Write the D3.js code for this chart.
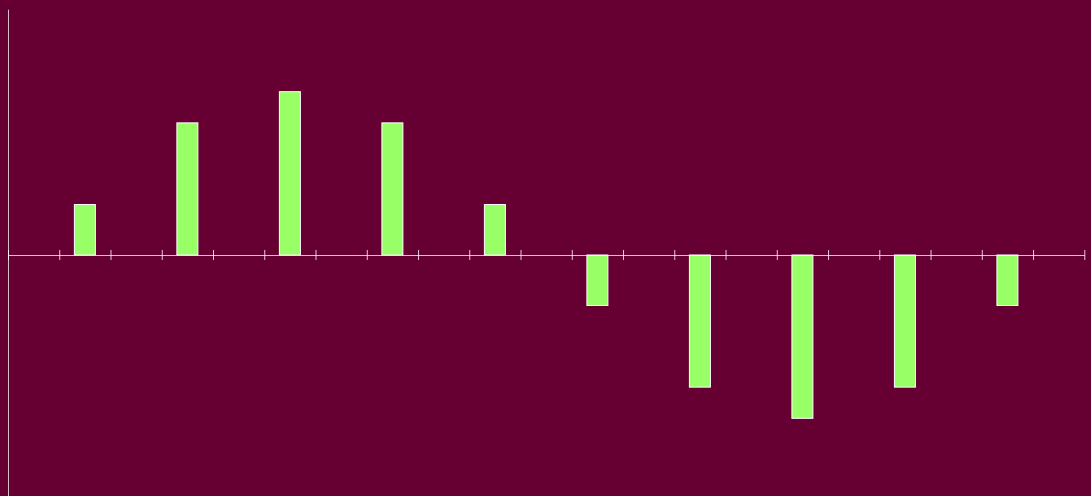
<!DOCTYPE html>
<html><head><meta charset="utf-8">
<script src="https://cdn.jsdelivr.net/npm/d3@7"></script>
<style>html,body{margin:0;padding:0;background:#660033;overflow:hidden}</style>
</head><body>
<svg id="chart" width="1091" height="496"></svg>
<script>
const xPositions = [1.5, 3.5, 5.5, 7.5, 9.5, 11.5, 13.5, 15.5, 17.5, 19.5];
const values = [0.309, 0.809, 1, 0.809, 0.309, -0.309, -0.809, -1, -0.809, -0.309];
const xDomain = [0, 21];
const yDomain = [-1.505, 1.505];
const xTicks = d3.range(0, 22);

const svg = d3.select("#chart");
svg.append("rect").attr("width",1091).attr("height",496).attr("fill","#660033");

const x = d3.scaleLinear().domain(xDomain).range([8, 1084.3]);
const y = d3.scaleLinear().domain(yDomain).range([500.8, 9.2]);
const barW = 21;

svg.append("g").selectAll("rect").data(values).join("rect")
  .attr("x",(d,i)=>x(xPositions[i]) - barW/2)
  .attr("y",d=>y(Math.max(0,d)))
  .attr("width",barW)
  .attr("height",d=>Math.abs(y(d) - y(0)))
  .attr("fill","#99ff66")
  .attr("stroke","#ffffff")
  .attr("stroke-width",1);

const xAxis = d3.axisBottom(x).tickValues(xTicks).tickSize(5).tickSizeOuter(0).tickFormat("");
const gx = svg.append("g").attr("transform",`translate(0,${y(0)})`).call(xAxis);
gx.select(".domain").attr("stroke","#ffffff").attr("stroke-opacity",0.75);
gx.selectAll(".tick line").attr("y1",-5).attr("y2",5).attr("stroke","#ffffff").attr("stroke-opacity",0.8);

const yAxis = d3.axisLeft(y).tickValues([]).tickSizeOuter(0);
const gy = svg.append("g").attr("transform","translate(8,0)").call(yAxis);
gy.select(".domain").attr("stroke","#ffffff").attr("stroke-opacity",0.75);
</script>
</body></html>
